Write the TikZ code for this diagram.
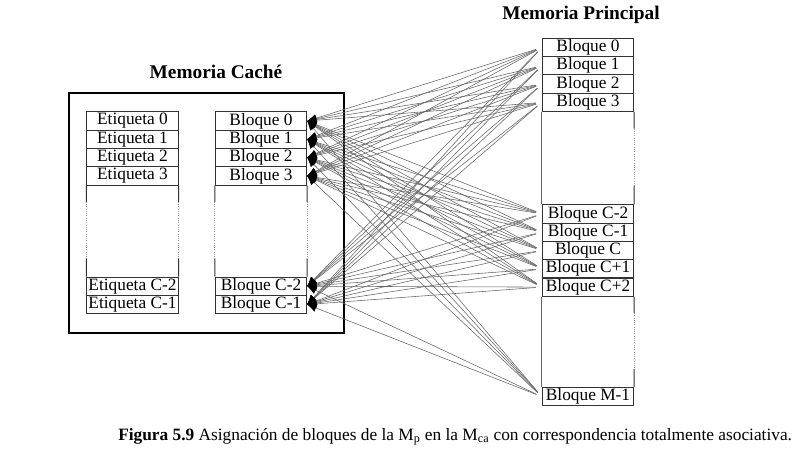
\documentclass[tikz,border=0pt]{standalone}
\usepackage{fontspec}
\setmainfont{Liberation Serif}
\usetikzlibrary{calc,positioning,arrows.meta}
\newcommand{\gapside}[2]{%
  \draw[black!80,line width=0.7pt] (#1) -- ($(#1)!0.18!(#2)$);
  \draw[black!40,line width=0.7pt,densely dotted] ($(#1)!0.18!(#2)$) -- ($(#1)!0.8!(#2)$);
  \draw[black!80,line width=0.7pt] ($(#1)!0.8!(#2)$) -- (#2);}

\begin{document}
\begin{tikzpicture}[x=0.75pt,y=-0.75pt,
  every node/.style={inner sep=0pt},
  cell/.style={draw=black!80,line width=0.7pt,minimum width=68.5pt,minimum height=13.7pt,font=\fontsize{13}{14}\selectfont},
  title/.style={font=\fontsize{14.5}{16}\selectfont\bfseries},
  link/.style={black!60,line width=0.42pt,{Latex[length=7pt,width=6pt,black]}-,shorten >=4.5pt}]
  \useasboundingbox (0,0) rectangle (799,460);
  % cache memory
  \node[title] (tcache) at (216,72) {Memoria Caché};
  \node[draw,line width=1.8pt,minimum width=206.25pt,minimum height=180pt] (cache) at (206.5,213) {};
  \node[cell] (e0)  at (132.5,121)   {Etiqueta 0};
  \node[cell] (e1)  at (132.5,139.3) {Etiqueta 1};
  \node[cell] (e2)  at (132.5,157.6) {Etiqueta 2};
  \node[cell] (e3)  at (132.5,175.9) {Etiqueta 3};
  \node[cell] (ec2) at (132.5,286.2) {Etiqueta C-2};
  \node[cell] (ec1) at (132.5,304.5) {Etiqueta C-1};
  \node[cell] (c0)  at (261,121)   {Bloque 0};
  \node[cell] (c1)  at (261,139.3) {Bloque 1};
  \node[cell] (c2)  at (261,157.6) {Bloque 2};
  \node[cell] (c3)  at (261,175.9) {Bloque 3};
  \node[cell] (cc2) at (261,286.2) {Bloque C-2};
  \node[cell] (cc1) at (261,304.5) {Bloque C-1};
  \gapside{e3.south west}{ec2.north west}
  \gapside{e3.south east}{ec2.north east}
  \gapside{c3.south west}{cc2.north west}
  \gapside{c3.south east}{cc2.north east}
  % main memory
  \node[title] (tmain) at (581,15) {Memoria Principal};
  \node[cell] (m0)   at (588,47.5)  {Bloque 0};
  \node[cell] (m1)   at (588,65.8)  {Bloque 1};
  \node[cell] (m2)   at (588,84.1)  {Bloque 2};
  \node[cell] (m3)   at (588,102.4) {Bloque 3};
  \node[cell] (mc2)  at (588,213.9) {Bloque C-2};
  \node[cell] (mc1)  at (588,232.2) {Bloque C-1};
  \node[cell] (mc)   at (588,250.5) {Bloque C};
  \node[cell] (mcp1) at (588,268.8) {Bloque C+1};
  \node[cell] (mcp2) at (588,287.1) {Bloque C+2};
  \node[cell] (mm1)  at (588,396.7) {Bloque M-1};
  \draw[black!60,line width=0.7pt] (m3.south west) -- (mc2.north west);
  \draw[black!60,line width=0.7pt] (mcp2.south west) -- (mm1.north west);
  \gapside{m3.south east}{mc2.north east}
  \gapside{mcp2.south east}{mm1.north east}
  % fully associative links
  \foreach \c in {c0,c1,c2,c3,cc2,cc1}
    \foreach \m in {m0,m1,m2,m3,mc2,mc1,mc,mcp1,mcp2,mm1}
      \draw[link] (\c.east) -- (\m.west);
  \node[anchor=west,font=\fontsize{13}{15}\selectfont] (caption) at (118,437)
    {\textbf{Figura 5.9} Asignación de bloques de la M\textsubscript{p} en la M\textsubscript{ca} con correspondencia totalmente asociativa.};
\end{tikzpicture}
\end{document}
